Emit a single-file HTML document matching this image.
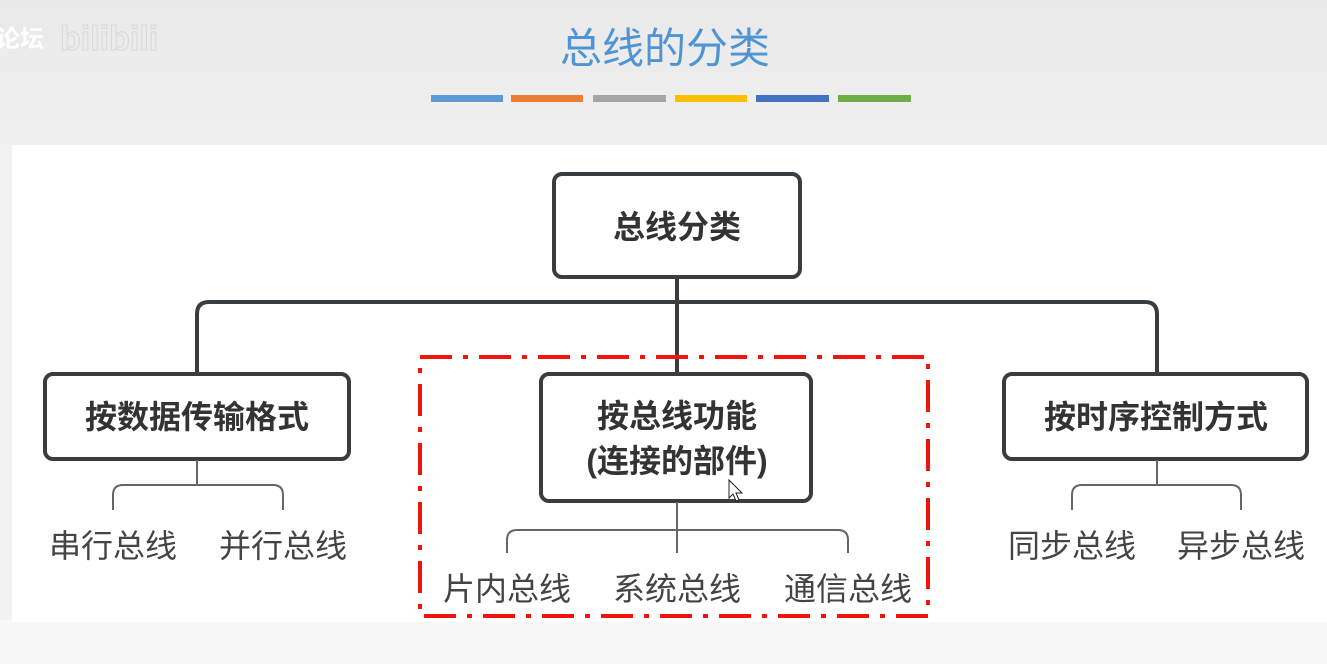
<!DOCTYPE html>
<html><head><meta charset="utf-8"><style>
html,body{margin:0;padding:0;width:1327px;height:664px;overflow:hidden;background:#f2f2f2}
svg{display:block}
text{font-family:"Liberation Sans","Noto Sans CJK SC",sans-serif}
</style></head><body>
<svg width="1327" height="664" viewBox="0 0 1327 664" xmlns="http://www.w3.org/2000/svg">
<defs><linearGradient id="bg" x1="0" y1="0" x2="0" y2="1"><stop offset="0" stop-color="#e9e9e9"/><stop offset="1" stop-color="#f0f0f0"/></linearGradient></defs>
<rect width="1327" height="145" fill="url(#bg)"/>
<rect y="620" width="1327" height="44" fill="#f7f7f7"/>
<rect x="12" y="145" width="1315" height="477" fill="#fff"/>
<text x="-4" y="47" font-size="24" fill="#fff" font-weight="bold">论坛</text>
<text x="60" y="50" font-size="34" fill="none" stroke="#d8d8d8" stroke-width="1" font-weight="bold">bilibili</text>
<text x="665" y="63" font-size="42" fill="#4f94d4" text-anchor="middle">总线的分类</text>
<g>
<rect x="431" y="95" width="72" height="7" fill="#5b9bd5"/>
<rect x="511" y="95" width="72" height="7" fill="#ed7d31"/>
<rect x="593" y="95" width="73" height="7" fill="#a5a5a5"/>
<rect x="675" y="95" width="72" height="7" fill="#ffc000"/>
<rect x="756" y="95" width="73" height="7" fill="#4472c4"/>
<rect x="838" y="95" width="73" height="7" fill="#70ad47"/>
</g>
<g fill="none" stroke="#3a3d40" stroke-width="4">
<path d="M677 278 V373"/>
<path d="M197 373 V314 Q197 302 209 302 H1145 Q1157 302 1157 314 V373"/>
<rect x="554" y="174" width="246" height="103" rx="8"/>
<rect x="45" y="374" width="304" height="85" rx="8"/>
<rect x="541" y="374" width="270" height="127" rx="8"/>
<rect x="1004" y="374" width="303" height="85" rx="8"/>
</g>
<g fill="none" stroke="#666" stroke-width="2">
<path d="M197 460 V485 M113 510 V495 Q113 485 123 485 H273 Q283 485 283 495 V510"/>
<path d="M677 502 V553 M507 553 V540 Q507 530 517 530 H838 Q848 530 848 540 V553"/>
<path d="M1157 460 V485 M1072 510 V495 Q1072 485 1082 485 H1231 Q1241 485 1241 495 V510"/>
</g>
<g font-size="32" fill="#333" text-anchor="middle" font-weight="bold">
<text x="677" y="238">总线分类</text>
<text x="197" y="428">按数据传输格式</text>
<text x="677" y="427">按总线功能</text>
<text x="677" y="472">(连接的部件)</text>
<text x="1156" y="428">按时序控制方式</text>
</g>
<g font-size="32" fill="#444" text-anchor="middle">
<text x="113" y="557">串行总线</text>
<text x="283" y="557">并行总线</text>
<text x="507" y="600">片内总线</text>
<text x="677" y="600">系统总线</text>
<text x="848" y="600">通信总线</text>
<text x="1072" y="557">同步总线</text>
<text x="1241" y="557">异步总线</text>
</g>
<rect x="420" y="357" width="508" height="259" fill="none" stroke="#f0140a" stroke-width="4" stroke-dasharray="32 11 5 11"/>
<path d="M729 480 v18 l4 -4 l3 7 l3 -1 l-3 -7 l6 0 z" fill="#fff" stroke="#222" stroke-width="1"/>
</svg>
</body></html>
